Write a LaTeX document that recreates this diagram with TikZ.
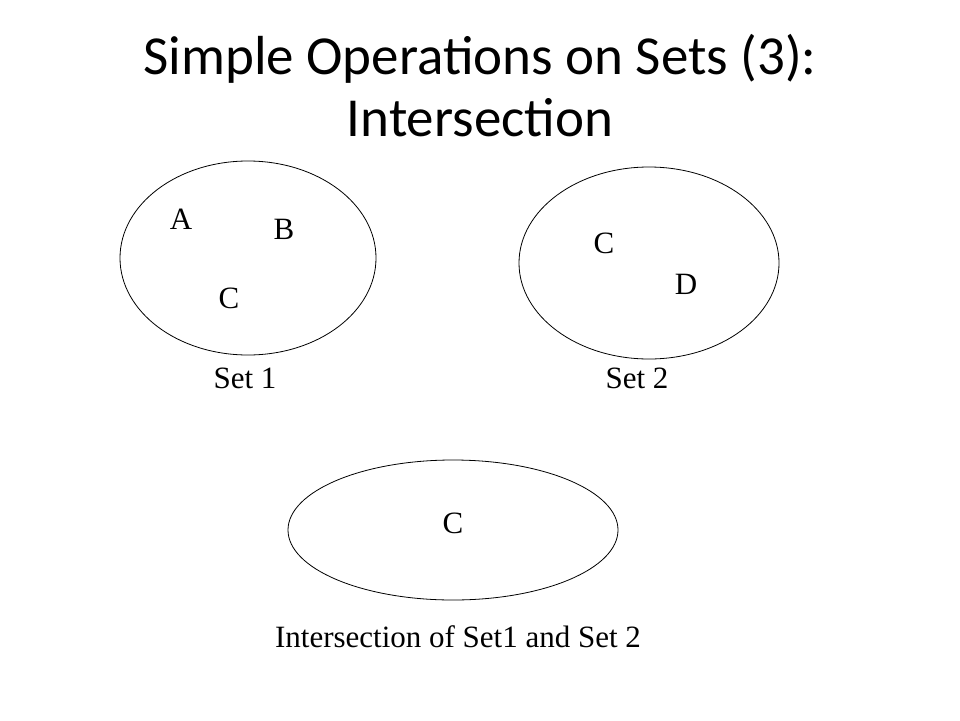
\documentclass[tikz,border=0pt]{standalone}
\usepackage{fontspec}
\setmainfont{Liberation Serif}
\newfontfamily\titlefont{Carlito}
\begin{document}
\begin{tikzpicture}[x=1pt,y=-1pt,line width=0.8pt]
\tikzset{elem/.style={font=\fontsize{31}{36}\selectfont,inner sep=0pt}}
\useasboundingbox (0,0) rectangle (960,720);
\node[font=\titlefont\fontsize{55}{62}\selectfont,align=center] (title) at (480,86)
  {Simple Operations on Sets (3):\\Intersection};
\begin{scope}
\draw (248,258) ellipse (128 and 97);
\node[elem] (a1) at (181,219){A};
\node[elem] (b1) at (284,229){B};
\node[elem] (c1) at (229,298){C};
\node[elem] (set1) at (245,378){Set 1};
\end{scope}
\begin{scope}
\draw (649,263) ellipse (130 and 96);
\node[elem] (c2) at (604,243){C};
\node[elem] (d2) at (686,284){D};
\node[elem] (set2) at (637,378){Set 2};
\end{scope}
\begin{scope}
\draw (453,530) ellipse (165 and 70);
\node[elem] (c3) at (453,523){C};
\node[elem] (both) at (458,637){Intersection of Set1 and Set 2};
\end{scope}
\end{tikzpicture}
\end{document}
